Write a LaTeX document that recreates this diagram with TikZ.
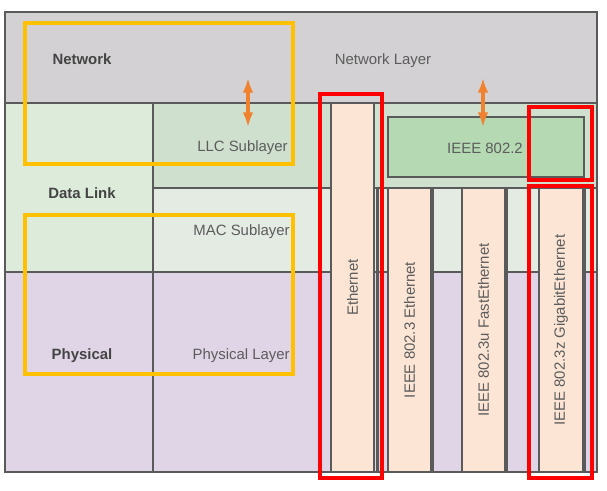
\documentclass[tikz,border=0pt]{standalone}
\usepackage{fontspec}
\setmainfont{Liberation Sans}
\usepackage{tikz}
\usetikzlibrary{arrows.meta, positioning}
\definecolor{lanNet}{HTML}{D3D1D3}
\definecolor{lanDl}{HTML}{DCEBDA}
\definecolor{lanLlc}{HTML}{CFE0CF}
\definecolor{lanMac}{HTML}{E3EBE3}
\definecolor{lanPhy}{HTML}{E0D5E6}
\definecolor{lanStd}{HTML}{FDE5D5}
\definecolor{lanIeee}{HTML}{B5D9B3}
\definecolor{lanLine}{HTML}{5A5A5A}
\definecolor{lanText}{HTML}{5C5C5C}
\definecolor{lanHead}{HTML}{444444}
\definecolor{lanGold}{HTML}{FFC000}
\definecolor{lanRed}{HTML}{FF0000}
\definecolor{lanArrow}{HTML}{F0812F}

\begin{document}
\begin{tikzpicture}[
  x=0.75pt, y=-0.75pt,
  cell/.style={draw=lanLine, line width=1.6pt, fill=#1},
  lbl/.style={text=lanText, font=\fontsize{11.2}{13}\selectfont, inner sep=0pt},
  head/.style={lbl, text=lanHead, font=\fontsize{11.2}{13}\selectfont\bfseries},
  vlbl/.style={lbl, rotate=90},
  hl/.style={draw=#1, line width=2.3pt},
  arr/.style={{Latex[length=11pt,width=8pt]}-{Latex[length=11pt,width=8pt]}, line width=2.4pt, lanArrow}
]
  \useasboundingbox (0,0) rectangle (607,490);

  \draw[cell=lanNet] (5,12) rectangle (597,103);
  \draw[cell=lanDl] (5,103) rectangle (153,272);
  \draw[cell=lanLlc] (153,103) rectangle (597,188);
  \draw[cell=lanMac] (153,188) rectangle (597,272);
  \draw[cell=lanPhy] (5,272) rectangle (153,472);
  \draw[cell=lanPhy] (153,272) rectangle (597,472);
  \foreach \x in {377.5,432.5,506.5,584.5}
    \draw[lanLine, line width=1.6pt] (\x,188) -- (\x,472);

  \draw[cell=lanStd] (331,103) rectangle (374,472);
  \node[vlbl] (eth) at (352.5,287.5) {Ethernet};
  \foreach \l/\r/\t [count=\i] in {388/431/IEEE 802.3 Ethernet, 462/505/IEEE 802.3u FastEthernet, 539/583/IEEE 802.3z GigabitEthernet} {
    \draw[cell=lanStd] (\l,188) rectangle (\r,472);
    \node[vlbl] (std\i) at ({(\l+\r)/2},330) {\t};
  }
  \draw[cell=lanIeee] (388,117) rectangle (584,177);
  \node[lbl] (ieee) at (485,148.5) {IEEE 802.2};

  \node[head] (network) at (82,59) {Network};
  \node[head] (datalink) at (82,193) {Data Link};
  \node[head] (physical) at (82,356) {Physical};
  \node[lbl] (netlayer) at (383,61) {Network Layer};
  \node[lbl, anchor=east] (llc) at (288,148) {LLC Sublayer};
  \node[lbl, anchor=east] (mac) at (290,232) {MAC Sublayer};
  \node[lbl, anchor=east] (phylayer) at (290,356) {Physical Layer};

  \draw[hl=lanGold] (25,23) rectangle (293,164);
  \draw[hl=lanGold] (25,215) rectangle (293,374);
  \draw[hl=lanRed] (320,94) rectangle (382,478);
  \draw[hl=lanRed] (529,107) rectangle (592,180);
  \draw[hl=lanRed] (529,186) rectangle (592,478);

  \coordinate (llcTop) at (248,78);
  \coordinate (llcBot) at (248,127);
  \coordinate (ieeeTop) at (483,78);
  \coordinate (ieeeBot) at (483,127);
  \draw[arr] (llcTop) -- (llcBot);
  \draw[arr] (ieeeTop) -- (ieeeBot);
\end{tikzpicture}
\end{document}
